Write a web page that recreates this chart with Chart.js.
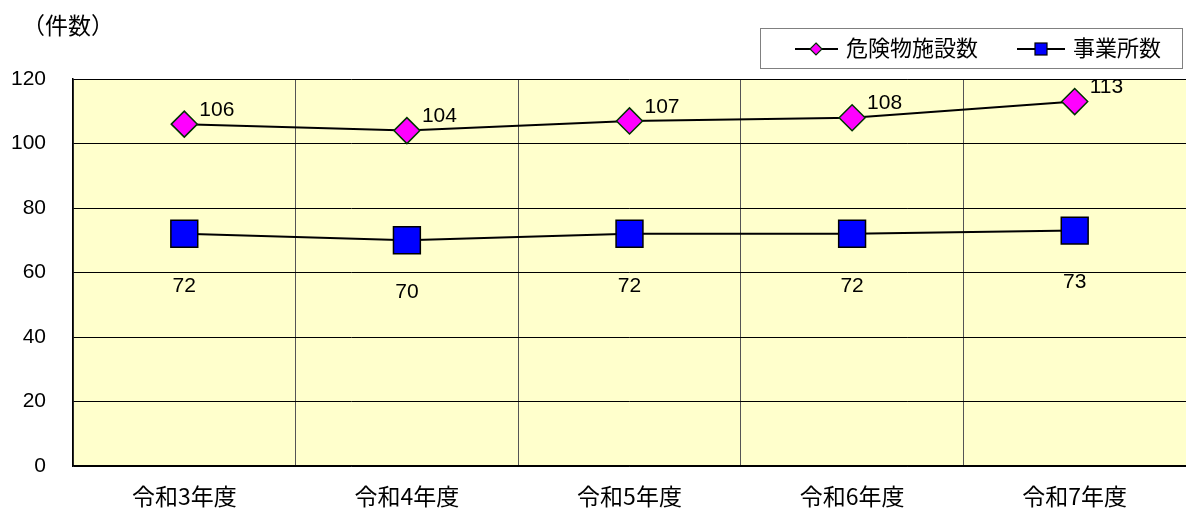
<!DOCTYPE html>
<html>
<head>
<meta charset="utf-8">
<script src="https://cdn.jsdelivr.net/npm/chart.js@4"></script>
<style>
  html, body { margin: 0; padding: 0; background: #fff; }
  #wrap { width: 1186px; height: 510px; }
</style>
</head>
<body>
<div id="wrap"><canvas id="myChart"></canvas></div>
<script>
var categories = ["令和3年度", "令和4年度", "令和5年度", "令和6年度", "令和7年度"];
var facilityCounts = [106, 104, 107, 108, 113];   // 危険物施設数
var officeCounts = [72, 70, 72, 72, 73];          // 事業所数
var seriesNames = ["危険物施設数", "事業所数"];
var yTicks = [0, 20, 40, 60, 80, 100, 120];

var FONT = '"Liberation Sans", "Noto Sans CJK JP", sans-serif';
var ctx = document.getElementById("myChart").getContext('2d');

// yellow plot background
var plotBg = {
  id: 'plotBg',
  beforeDraw: function(chart) {
    var a = chart.chartArea, c = chart.ctx;
    c.save();
    c.fillStyle = '#FFFFCC';
    c.fillRect(a.left, a.top, a.right - a.left, a.bottom - a.top);
    c.restore();
  }
};

// value labels next to the points, title and boxed legend
var extras = {
  id: 'extras',
  afterDatasetsDraw: function(chart) {
    var c = chart.ctx;
    c.save();
    c.fillStyle = '#000';
    c.font = '21px ' + FONT;
    c.textBaseline = 'middle';
    chart.getDatasetMeta(0).data.forEach(function(pt, i) {
      c.textAlign = 'left';
      c.fillText(String(facilityCounts[i]), pt.x + 15, pt.y - 14);
    });
    chart.getDatasetMeta(1).data.forEach(function(pt, i) {
      c.textAlign = 'center';
      c.fillText(String(officeCounts[i]), pt.x, pt.y + 52);
    });

    // unit title
    c.font = '23px "Noto Sans CJK JP", sans-serif';
    c.textAlign = 'left';
    c.fillText('（件数）', 22, 25);

    // legend box
    c.fillStyle = '#fff';
    c.fillRect(760, 28, 422, 40);
    c.strokeStyle = '#808080';
    c.lineWidth = 1;
    c.strokeRect(760.5, 28.5, 422, 40);
    var ly = 49;
    c.strokeStyle = '#000';
    c.lineWidth = 2;
    c.beginPath(); c.moveTo(795, ly); c.lineTo(838, ly); c.stroke();
    c.beginPath(); c.moveTo(1017, ly); c.lineTo(1065, ly); c.stroke();
    // diamond
    c.fillStyle = '#FF00FF';
    c.strokeStyle = '#003300';
    c.lineWidth = 1.2;
    c.beginPath();
    c.moveTo(816, ly - 6); c.lineTo(822, ly); c.lineTo(816, ly + 6); c.lineTo(810, ly);
    c.closePath(); c.fill(); c.stroke();
    // square
    c.fillStyle = '#0000FF';
    c.strokeStyle = '#000';
    c.fillRect(1035, ly - 6, 12, 12);
    c.strokeRect(1035, ly - 6, 12, 12);
    c.fillStyle = '#000';
    c.font = '22px ' + FONT;
    c.textAlign = 'left';
    c.fillText(seriesNames[0], 846, ly + 1);
    c.fillText(seriesNames[1], 1073, ly + 1);
    c.restore();
  }
};

var myChart = new Chart(ctx, {
  type: 'line',
  data: {
    labels: categories,
    datasets: [{
      label: seriesNames[0],
      data: facilityCounts,
      borderColor: '#000',
      borderWidth: 2,
      pointStyle: 'rectRot',
      pointRadius: 13,
      pointHoverRadius: 13,
      pointBackgroundColor: '#FF00FF',
      pointBorderColor: '#003300',
      pointBorderWidth: 1.5,
      tension: 0
    }, {
      label: seriesNames[1],
      data: officeCounts,
      borderColor: '#000',
      borderWidth: 2,
      pointStyle: 'rect',
      pointRadius: 19,
      pointHoverRadius: 19,
      pointBackgroundColor: '#0000FF',
      pointBorderColor: '#000',
      pointBorderWidth: 1.5,
      tension: 0
    }]
  },
  options: {
    responsive: true,
    maintainAspectRatio: false,
    animation: false,
    layout: { autoPadding: false, padding: { top: 79, right: 0, left: 0, bottom: 0 } },
    plugins: {
      legend: { display: false },
      tooltip: { enabled: false }
    },
    scales: {
      x: {
        offset: true,
        grid: { offset: true, color: '#555', lineWidth: 1, drawTicks: false },
        border: { color: '#000', width: 1.5 },
        ticks: { color: '#000', font: { family: '"Noto Sans CJK JP", sans-serif', size: 23 }, padding: 16, maxRotation: 0 },
        afterFit: function(s) { s.height = 44; s.paddingLeft = 0; s.paddingRight = 0; }
      },
      y: {
        min: yTicks[0],
        max: yTicks[yTicks.length - 1],
        afterBuildTicks: function(s) {
          s.ticks = yTicks.map(function(v) { return { value: v }; });
        },
        grid: { color: '#000', lineWidth: 1, drawTicks: false },
        border: { color: '#000', width: 1.5 },
        ticks: { color: '#000', font: { family: FONT, size: 21 }, padding: 27 },
        afterFit: function(s) { s.width = 73; }
      }
    }
  },
  plugins: [plotBg, extras]
});
</script>
</body>
</html>
